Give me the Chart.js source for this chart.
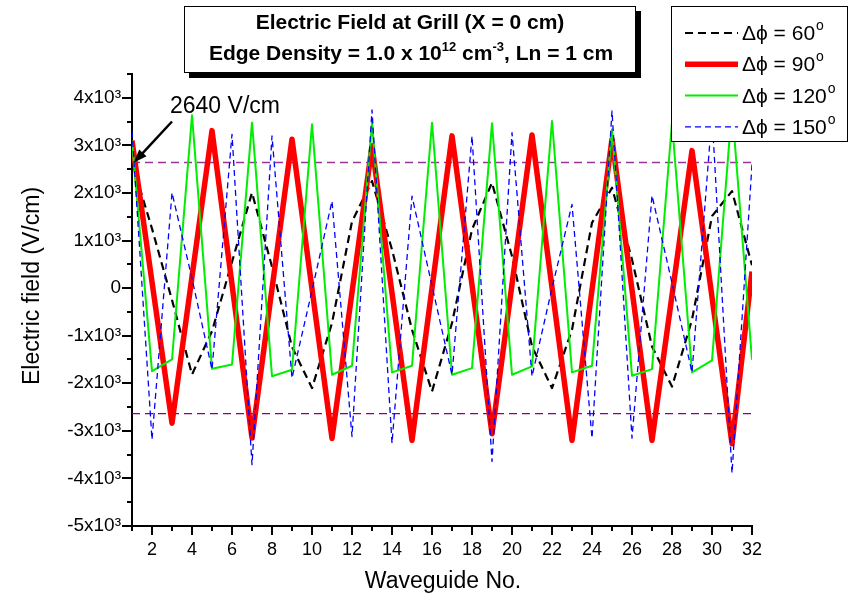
<!DOCTYPE html>
<html><head><meta charset="utf-8">
<script src="https://cdn.jsdelivr.net/npm/chart.js@4/dist/chart.umd.min.js"></script>
<style>html,body{margin:0;padding:0;background:#fff}canvas{display:block}</style>
</head><body>
<canvas id="c" width="851" height="603"></canvas>
<script>
// ---- data ----
const waveguides = [1,2,3,4,5,6,7,8,9,10,11,12,13,14,15,16,17,18,19,20,21,22,23,24,25,26,27,28,29,30,31,32];
const phase60  = [2640,1250,-250,-1816,-905,550,2006,450,-1235,-2102,-733,1400,2249,810,-874,-2172,-733,1232,2214,670,-1225,-2102,-874,1372,2109,600,-1225,-2070,-663,1512,2039,480];
const phase90  = [3100,130,-2840,240,3310,80,-3150,-10,3130,-15,-3160,-90,2990,-100,-3200,0,3200,70,-3060,80,3220,10,-3200,-35,3130,-35,-3200,-155,2890,-190,-3270,350];
const phase120 = [3100,-1746,-1500,3632,-1697,-1606,3478,-1851,-1716,3442,-1821,-1632,3477,-1772,-1632,3477,-1821,-1681,3463,-1821,-1646,3512,-1772,-1632,3337,-1842,-1702,3480,-1772,-1519,3800,-1505];
const phase150 = [3300,-3184,2006,200,-1711,3233,-3710,3198,-1891,-50,1829,-3119,3744,-3260,1933,50,-1821,3196,-3646,3267,-1856,0,1758,-3154,3723,-3154,1947,110,-1772,3650,-3891,2600];
const seriesLabels = ['Δϕ = 60°','Δϕ = 90°','Δϕ = 120°','Δϕ = 150°'];
const refLevel = 2640;
const refLabel = '2640 V/cm';
const titleLine1 = 'Electric Field at Grill (X = 0 cm)';
const titleLine2 = [['Edge Density = 1.0 x 10',0],['12',1],[' cm',0],['-3',1],[', Ln = 1 cm',0]];
const xTitle = 'Waveguide No.';
const yTitle = 'Electric field (V/cm)';

const FONT = '"Liberation Sans", Arial, Helvetica, sans-serif';
const pts = arr => arr.map((v,i) => ({x: waveguides[i], y: v}));

function drawRuns(ctx, runs, cx, y, size, supSize, weight) {
  let w = 0;
  runs.forEach(([t,s]) => { ctx.font = weight + ' ' + (s ? supSize : size) + 'px ' + FONT; w += ctx.measureText(t).width; });
  let x = cx - w/2;
  ctx.textAlign = 'left'; ctx.textBaseline = 'alphabetic';
  runs.forEach(([t,s]) => {
    ctx.font = weight + ' ' + (s ? supSize : size) + 'px ' + FONT;
    ctx.fillText(t, x, s ? y - size*0.42 : y);
    x += ctx.measureText(t).width;
  });
}

const decor = {
  id: 'decor',
  afterDraw(chart) {
    const ctx = chart.ctx, xs = chart.scales.x, ys = chart.scales.y, ca = chart.chartArea;
    ctx.save();
    // tick marks
    ctx.strokeStyle = '#000'; ctx.lineWidth = 2;
    ys.ticks.forEach(t => {
      const y = Math.round(ys.getPixelForValue(t.value));
      const len = (t.value % 1000 === 0) ? 10 : 5;
      ctx.beginPath(); ctx.moveTo(ca.left - len, y); ctx.lineTo(ca.left, y); ctx.stroke();
    });
    xs.ticks.forEach(t => {
      const x = Math.round(xs.getPixelForValue(t.value));
      const len = (t.value % 2 === 0) ? 9 : 5;
      ctx.beginPath(); ctx.moveTo(x, ca.bottom); ctx.lineTo(x, ca.bottom + len); ctx.stroke();
    });
    // axis titles
    ctx.fillStyle = '#000';
    ctx.font = '23px ' + FONT; ctx.textAlign = 'center'; ctx.textBaseline = 'middle';
    ctx.fillText(xTitle, (ca.left + ca.right)/2 + 1, 582);
    ctx.save(); ctx.translate(33, 286); ctx.rotate(-Math.PI/2); ctx.fillText(yTitle, 0, 0); ctx.restore();
    // annotation arrow
    const tx = xs.getPixelForValue(waveguides[0]) + 2, ty = ys.getPixelForValue(refLevel);
    const sx = tx + 38, sy = ty - 41;
    const ang = Math.atan2(ty - sy, tx - sx);
    ctx.strokeStyle = '#000'; ctx.lineWidth = 2.5;
    ctx.beginPath(); ctx.moveTo(sx, sy); ctx.lineTo(tx - 9*Math.cos(ang), ty - 9*Math.sin(ang)); ctx.stroke();
    ctx.beginPath();
    ctx.moveTo(tx, ty);
    ctx.lineTo(tx - 13*Math.cos(ang) + 5*Math.sin(ang), ty - 13*Math.sin(ang) - 5*Math.cos(ang));
    ctx.lineTo(tx - 13*Math.cos(ang) - 5*Math.sin(ang), ty - 13*Math.sin(ang) + 5*Math.cos(ang));
    ctx.closePath(); ctx.fill();
    ctx.font = '23px ' + FONT; ctx.textAlign = 'left'; ctx.textBaseline = 'alphabetic';
    ctx.fillText(refLabel, 170, 113);
    // title box with shadow
    ctx.fillStyle = '#000'; ctx.fillRect(189, 11, 452, 67);
    ctx.fillStyle = '#fff'; ctx.fillRect(184, 6, 452, 67);
    ctx.strokeStyle = '#000'; ctx.lineWidth = 1; ctx.strokeRect(184.5, 6.5, 451, 66);
    ctx.fillStyle = '#000';
    drawRuns(ctx, [[titleLine1,0]], 410, 29, 21, 13, 'bold');
    drawRuns(ctx, titleLine2, 411, 60, 21, 13, 'bold');
    // legend box
    ctx.fillStyle = '#fff'; ctx.fillRect(671, 6, 177, 136);
    ctx.strokeStyle = '#000'; ctx.lineWidth = 1; ctx.strokeRect(671.5, 6.5, 176, 135);
    const ds = chart.data.datasets.filter(d => seriesLabels.includes(d.label));
    ds.forEach((d, i) => {
      const y = 33 + i*31.3;
      ctx.save();
      ctx.strokeStyle = d.borderColor; ctx.lineWidth = d.borderWidth;
      ctx.setLineDash(d.borderDash || []);
      ctx.beginPath(); ctx.moveTo(685, y); ctx.lineTo(738, y); ctx.stroke();
      ctx.restore();
      const base = d.label.replace('°','');
      ctx.fillStyle = '#000'; ctx.font = '21px ' + FONT; ctx.textAlign = 'left'; ctx.textBaseline = 'alphabetic';
      ctx.fillText(base, 742, y + 7);
      const w = ctx.measureText(base).width;
      ctx.font = '14px ' + FONT;
      ctx.fillText('o', 742 + w + 1, y - 3);
    });
    ctx.restore();
  }
};

new Chart(document.getElementById('c'), {
  type: 'line',
  data: {
    datasets: [
      {label: seriesLabels[0], data: pts(phase60), borderColor: '#000000', borderWidth: 2.2, borderDash: [8,5], order: 3},
      {label: seriesLabels[1], data: pts(phase90), borderColor: '#ff0000', borderWidth: 5.5, order: 2},
      {label: seriesLabels[2], data: pts(phase120), borderColor: '#00ee00', borderWidth: 2, order: 1},
      {label: seriesLabels[3], data: pts(phase150), borderColor: '#0000ff', borderWidth: 1.3, borderDash: [6,4], order: 0},
      {label: 'ref+', data: [{x: waveguides[0], y: refLevel}, {x: waveguides[waveguides.length-1], y: refLevel}], borderColor: '#993399', borderWidth: 1.5, borderDash: [8,5], order: 5},
      {label: 'ref-', data: [{x: waveguides[0], y: -refLevel}, {x: waveguides[waveguides.length-1], y: -refLevel}], borderColor: '#880088', borderWidth: 1.3, borderDash: [8,5], order: 5}
    ]
  },
  options: {
    responsive: false, animation: false, devicePixelRatio: 1,
    layout: {padding: {left: 0, right: 99, top: 74, bottom: 0}},
    plugins: {legend: {display: false}, tooltip: {enabled: false}, title: {display: false}},
    elements: {point: {radius: 0}, line: {tension: 0, borderJoinStyle: 'round', fill: false}},
    scales: {
      x: {
        type: 'linear', min: 1, max: 32,
        afterFit(s) { s.height = 77; },
        grid: {display: false, drawTicks: false},
        border: {display: true, color: '#000', width: 2},
        ticks: {stepSize: 1, autoSkip: false, maxRotation: 0, padding: 13, color: '#000',
          font: {family: FONT, size: 18},
          callback: v => (v % 2 === 0 ? String(v) : '')}
      },
      y: {
        type: 'linear', min: -5000, max: 4500,
        afterFit(s) { s.width = 132; },
        grid: {display: false, drawTicks: false},
        border: {display: true, color: '#000', width: 2},
        ticks: {stepSize: 500, autoSkip: false, padding: 11, color: '#000',
          font: {family: FONT, size: 19},
          callback: v => (v % 1000 !== 0 ? '' : (v === 0 ? '0' : (v/1000) + 'x10³'))}
      }
    }
  },
  plugins: [decor]
});
</script>
</body></html>
